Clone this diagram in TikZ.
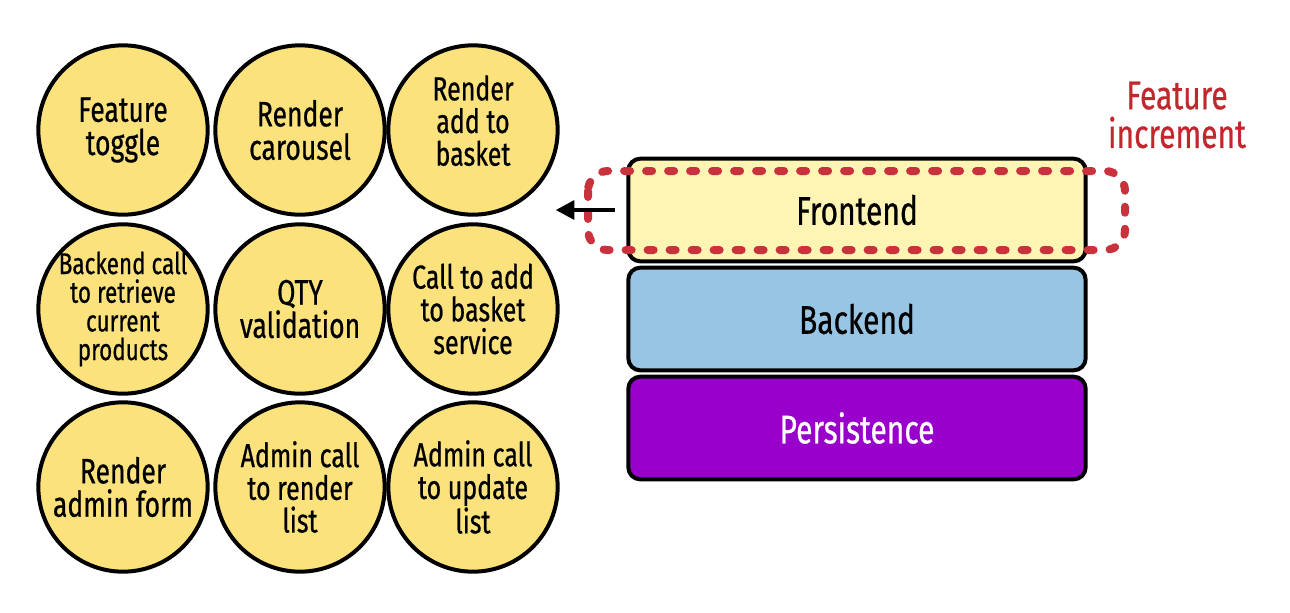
\documentclass[tikz,border=0pt]{standalone}
\usepackage{fontspec}
\setmainfont{Fira Sans}[FakeStretch=0.75, FakeBold=0.6]
\usetikzlibrary{arrows.meta}
\definecolor{circfill}{HTML}{FBE27C}
\definecolor{fefill}{HTML}{FEF4B4}
\definecolor{befill}{HTML}{99C5E5}
\definecolor{pefill}{HTML}{9A00CC}
\definecolor{incred}{HTML}{C1272D}
\definecolor{dashred}{HTML}{C8323C}
\tikzset{
  task/.style={circle, draw=black, line width=3pt, fill=circfill, minimum size=127pt, inner sep=0pt},
  tasktext/.style={align=center, inner sep=0pt, font=\fontsize{26.5}{25}\selectfont},
  smalltext/.style={tasktext, font=\fontsize{22.5}{21.5}\selectfont},
  midtext/.style={tasktext, font=\fontsize{25}{24.5}\selectfont},
  layer/.style={rectangle, rounded corners=9pt, draw=black, line width=3pt, minimum width=343pt, minimum height=77pt, inner sep=0pt, font=\fontsize{30}{32}\selectfont},
  incbox/.style={draw=dashred, line width=6pt, line cap=round, dash pattern=on 4.5pt off 12pt, rounded corners=15pt},
  backarrow/.style={line width=3pt, -{Triangle[length=14pt, width=14pt]}}
}
\begin{document}
\begin{tikzpicture}[x=0.75pt, y=-0.75pt]
\useasboundingbox (0,0) rectangle (1290,612);
% circles
\node[task] (c11) at (123,130) {};
\node[task] (c12) at (300,130) {};
\node[task] (c13) at (473,130) {};
\node[task] (c21) at (123,309) {};
\node[task] (c22) at (300,309) {};
\node[task] (c23) at (473,309) {};
\node[task] (c31) at (123,487) {};
\node[task] (c32) at (300,487) {};
\node[task] (c33) at (473,487) {};
\node[tasktext] (t11) at (c11) {Feature\\toggle};
\node[tasktext] (t12) at (c12) {Render\\carousel};
\node[midtext] (t13) at ([yshift=7pt]c13) {Render\\add to\\basket};
\node[smalltext] (t21) at (c21) {Backend call\\to retrieve\\current\\products};
\node[tasktext] (t22) at (c22) {QTY\\validation};
\node[midtext] (t23) at (c23) {Call to add\\to basket\\service};
\node[tasktext] (t31) at (c31) {Render\\admin form};
\node[midtext] (t32) at (c32) {Admin call\\to render\\list};
\node[midtext] (t33) at (c33) {Admin call\\to update\\list};
% layers
\node[layer, fill=fefill] (fe) at (857,210) {Frontend};
\node[layer, fill=befill] (be) at (857,319) {Backend};
\node[layer, fill=pefill, text=white] (pe) at (857,428) {Persistence};
% feature increment
\draw[incbox] (588,171) rectangle (1125,250);
\node[text=incred, align=center, inner sep=0pt, font=\fontsize{30}{29}\selectfont] (inc) at (1177,115) {Feature\\increment};
% arrow
\coordinate (arrtail) at ([xshift=-8.5pt]fe.west);
\coordinate (arrhead) at ([xshift=-53pt]fe.west);
\draw[backarrow] (arrtail) -- (arrhead);
\end{tikzpicture}
\end{document}
